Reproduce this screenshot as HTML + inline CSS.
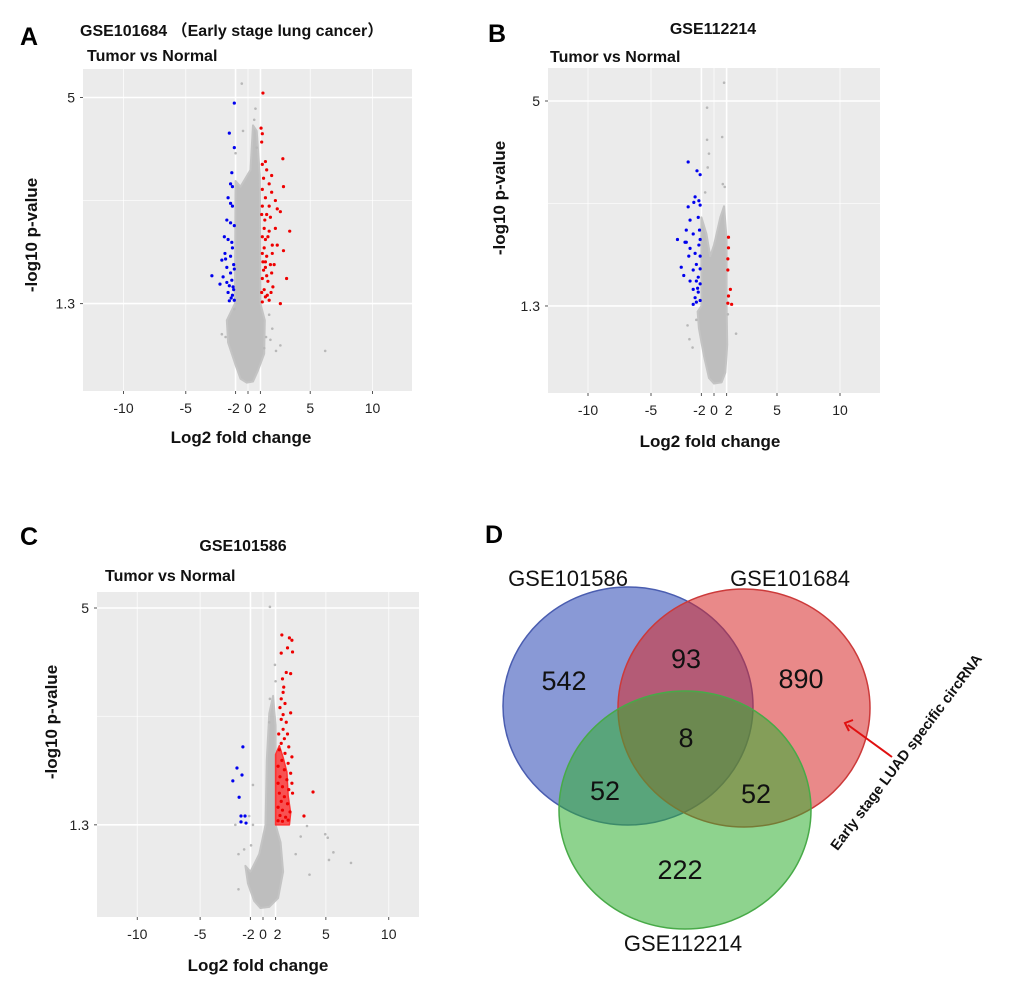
<!DOCTYPE html>
<html><head><meta charset="utf-8">
<style>
html,body{margin:0;padding:0;background:#fff;}
svg{display:block;font-family:"Liberation Sans","Noto Sans CJK SC",sans-serif;}
.lt{font-weight:bold;font-size:25px;fill:#000}
.tt{font-weight:bold;font-size:16px;fill:#111}
.tk{font-size:14px;fill:#222}
.ax{font-weight:bold;font-size:17px;fill:#111}
.vl{font-size:22px;fill:#111}
.vn{font-size:27px;fill:#111}
</style></head>
<body>
<svg id="fig" width="1020" height="985" viewBox="0 0 1020 985">
<g id="panels"></g>

<text class="lt" x="20" y="45">A</text>
<text class="tt" x="80" y="36">GSE101684 （Early stage lung cancer）</text>
<text class="tt" x="87" y="61">Tumor vs Normal</text>
<text class="ax" x="241" y="443" text-anchor="middle">Log2 fold change</text>
<text class="ax" transform="translate(37,235) rotate(-90)" text-anchor="middle">-log10 p-value</text>

<text class="lt" x="488" y="42">B</text>
<text class="tt" x="713" y="34" text-anchor="middle">GSE112214</text>
<text class="tt" x="550" y="62">Tumor vs Normal</text>
<text class="ax" x="710" y="447" text-anchor="middle">Log2 fold change</text>
<text class="ax" transform="translate(505,198) rotate(-90)" text-anchor="middle">-log10 p-value</text>

<text class="lt" x="20" y="545">C</text>
<text class="tt" x="243" y="551" text-anchor="middle">GSE101586</text>
<text class="tt" x="105" y="581">Tumor vs Normal</text>
<text class="ax" x="258" y="971" text-anchor="middle">Log2 fold change</text>
<text class="ax" transform="translate(57,722) rotate(-90)" text-anchor="middle">-log10 p-value</text>

<text class="lt" x="485" y="543">D</text>
<g id="venn">
  <ellipse cx="628" cy="706" rx="125" ry="119" fill="rgb(40,70,180)" fill-opacity="0.55" stroke="#4a5db0" stroke-width="1.5"/>
  <ellipse cx="744" cy="708" rx="126" ry="119" fill="rgb(215,40,40)" fill-opacity="0.55" stroke="#cc3a3a" stroke-width="1.5"/>
  <ellipse cx="685" cy="810" rx="126" ry="119" fill="rgb(50,175,50)" fill-opacity="0.55" stroke="#48aa48" stroke-width="1.5"/>
</g>
<text class="vl" x="568" y="586" text-anchor="middle">GSE101586</text>
<text class="vl" x="790" y="586" text-anchor="middle">GSE101684</text>
<text class="vl" x="683" y="951" text-anchor="middle">GSE112214</text>
<text class="vn" x="564" y="690" text-anchor="middle">542</text>
<text class="vn" x="686" y="668" text-anchor="middle">93</text>
<text class="vn" x="801" y="688" text-anchor="middle">890</text>
<text class="vn" x="686" y="747" text-anchor="middle">8</text>
<text class="vn" x="605" y="800" text-anchor="middle">52</text>
<text class="vn" x="756" y="803" text-anchor="middle">52</text>
<text class="vn" x="680" y="879" text-anchor="middle">222</text>
<g>
  <line x1="892" y1="757" x2="848" y2="725" stroke="#e01010" stroke-width="2"/>
  <polyline points="853,720 845,723 849,731" fill="none" stroke="#e01010" stroke-width="2"/>
</g>
<text transform="translate(910,755) rotate(-53)" text-anchor="middle" style="font-weight:bold;font-size:14.5px;fill:#111">Early stage LUAD specific circRNA</text>
</svg>

<script>
const xTickValues = [-10, -5, -1, 0, 1, 5, 10];
const xTickLabels = ["-10", "-5", "-2", "0", "2", "5", "10"];
const yTickValues = [5, 1.3];
const yTickLabels = ["5", "1.3"];

const aBlue = [[-1.1,4.9],[-1.5,4.36],[-1.1,4.1],[-1.3,3.65],[-1.4,3.45],[-1.25,3.4],[-1.6,3.2],[-1.4,3.1],[-1.25,3.05],[-1.7,2.8],[-1.4,2.75],[-1.9,2.5],[-1.6,2.45],[-1.3,2.4],[-2.1,2.08],[-1.8,2.1],[-1.4,2.15],[-2.9,1.8],[-2.25,1.65],[-2.0,1.78],[-1.7,1.68],[-1.3,1.72],[-1.6,1.5],[-1.25,1.45],[-1.1,1.36],[-1.5,1.35],[-1.7,1.95],[-1.1,1.92],[-1.15,1.55],[-1.4,1.85],[-1.85,2.2],[-1.1,2.7],[-1.25,2.3],[-1.2,1.6],[-1.35,1.4],[-1.15,2.0],[-1.5,1.62]];
const aRed = [[1.2,5.08],[1.05,4.45],[1.15,4.35],[1.1,4.2],[2.8,3.9],[1.15,3.8],[1.4,3.85],[1.5,3.7],[1.25,3.55],[1.9,3.6],[2.85,3.4],[1.15,3.35],[1.7,3.45],[1.4,3.2],[1.9,3.3],[2.2,3.15],[2.6,2.95],[1.15,3.05],[1.5,2.9],[1.8,2.85],[2.35,3.0],[3.35,2.6],[1.3,2.65],[1.7,2.6],[2.2,2.65],[1.4,2.45],[1.95,2.35],[2.35,2.35],[2.85,2.25],[1.15,2.2],[1.5,2.15],[1.8,2.0],[1.4,1.95],[2.1,2.0],[3.1,1.75],[1.15,1.75],[1.6,1.7],[1.3,1.55],[1.85,1.5],[1.4,1.42],[1.15,1.33],[1.7,1.36],[2.6,1.3],[1.4,2.05],[1.3,2.3],[1.7,3.05],[1.15,2.5],[1.5,1.8],[1.95,2.2],[1.1,2.9],[1.25,1.9],[1.6,2.5],[1.1,1.5],[2.0,1.6],[1.35,2.8],[1.2,2.05],[1.55,1.45],[1.9,1.85]];
const aGrey = [[-0.5,5.25],[0.6,4.8],[-0.4,4.4],[-1.0,4.0],[6.2,0.45],[2.6,0.55],[2.25,0.45],[1.7,1.1],[1.95,0.85],[-2.1,0.75],[-1.8,0.7],[1.3,0.5],[1.45,0.7],[-1.1,1.2],[1.8,0.65],[0.5,4.6],[0.7,4.1]];
const aCloud = [[-1.0,3.5],[-0.6,3.4],[0.2,3.7],[0.4,4.5],[0.7,4.4],[0.95,3.6],[1.0,1.3],[1.35,1.0],[1.3,0.4],[0.8,0.1],[0.4,-0.1],[-0.1,-0.12],[-0.6,-0.05],[-1.0,0.2],[-1.6,0.6],[-1.7,1.0],[-1.05,1.3]];

const bBlue = [[-2.05,3.9],[-1.35,3.74],[-1.1,3.67],[-1.5,3.27],[-1.2,3.2],[-1.6,3.17],[-2.05,3.09],[-1.1,3.12],[-1.9,2.85],[-1.25,2.9],[-2.2,2.67],[-1.65,2.6],[-1.15,2.67],[-2.9,2.5],[-2.3,2.45],[-1.9,2.34],[-1.1,2.5],[-1.5,2.25],[-1.1,2.2],[-2.0,2.2],[-2.6,2.0],[-1.4,2.05],[-1.65,1.95],[-2.4,1.85],[-1.1,1.97],[-1.9,1.75],[-1.4,1.75],[-1.1,1.7],[-1.65,1.6],[-1.25,1.55],[-1.5,1.45],[-1.1,1.4],[-1.65,1.33],[-1.4,1.37],[-1.25,1.82],[-2.2,2.45],[-1.2,2.4],[-1.3,1.62]];
const bRed = [[1.15,2.54],[1.15,2.35],[1.1,2.15],[1.1,1.95],[1.3,1.6],[1.15,1.48],[1.4,1.33],[1.1,1.35]];
const bGrey = [[0.8,5.33],[-0.55,4.88],[-0.55,4.3],[0.65,4.35],[-0.4,4.05],[-0.5,3.8],[0.7,3.5],[0.85,3.45],[-0.7,3.35],[-2.1,0.95],[-1.95,0.7],[-1.7,0.55],[1.75,0.8],[-1.4,1.05],[1.1,1.15]];
const bCloud = [[-1.0,2.9],[-0.6,2.6],[-0.3,2.2],[0.0,2.4],[0.5,2.9],[0.8,3.1],[1.0,2.5],[1.0,1.3],[1.05,0.6],[0.9,0.1],[0.6,-0.08],[0.0,-0.1],[-0.4,0.0],[-0.8,0.4],[-1.2,0.9],[-1.3,1.2],[-1.0,1.3]];

const cBlue = [[-1.6,2.63],[-2.07,2.27],[-1.67,2.15],[-2.4,2.05],[-1.9,1.77],[-1.75,1.45],[-1.43,1.45],[-1.75,1.35],[-1.35,1.33]];
const cRed = [[1.5,4.54],[2.1,4.49],[2.3,4.45],[1.45,4.23],[1.95,4.32],[2.35,4.25],[1.85,3.9],[2.2,3.88],[1.55,3.79],[1.65,3.65],[1.6,3.56],[1.45,3.45],[1.75,3.37],[1.35,3.3],[2.2,3.21],[1.6,3.18],[1.45,3.1],[1.85,3.05],[1.6,2.93],[1.25,2.85],[1.95,2.85],[1.7,2.77],[1.45,2.69],[2.05,2.63],[1.3,2.58],[1.75,2.52],[2.3,2.46],[1.5,2.4],[2.0,2.35],[1.2,2.3],[1.7,2.24],[2.2,2.18],[1.35,2.12],[1.9,2.07],[2.3,2.01],[1.2,2.01],[1.55,1.95],[2.05,1.9],[2.35,1.84],[1.3,1.84],[1.7,1.78],[1.45,1.7],[1.95,1.66],[1.2,1.6],[1.55,1.55],[2.15,1.52],[1.35,1.46],[1.8,1.43],[1.2,1.37],[1.55,1.36],[2.0,1.38],[3.98,1.86],[3.26,1.45]];
const cRedCore = [[1.0,1.3],[1.0,2.5],[1.3,2.65],[1.6,2.45],[1.9,2.2],[2.0,1.8],[2.2,1.5],[2.1,1.3]];
const cGrey = [[0.55,5.02],[0.95,4.03],[1.0,3.75],[0.55,3.45],[0.5,3.05],[-0.8,1.98],[-2.2,1.3],[-0.8,1.3],[-1.1,1.45],[-1.95,0.8],[-1.5,0.88],[-0.95,0.95],[-1.95,0.2],[3.5,1.28],[4.95,1.14],[5.15,1.08],[5.6,0.83],[5.25,0.7],[7.0,0.65],[3.7,0.45],[2.6,0.8],[3.0,1.1]];
const cCloud = [[0.2,1.3],[0.3,2.4],[0.5,3.2],[0.8,3.5],[1.0,3.0],[1.0,1.3],[1.4,1.0],[1.6,0.5],[1.2,0.05],[0.5,-0.1],[-0.2,-0.12],[-0.7,0.0],[-1.2,0.3],[-1.4,0.6],[-1.0,0.5],[-0.3,0.8],[0.0,1.1]];

const NS = "http://www.w3.org/2000/svg";
const root = document.getElementById("panels");
function mk(tag, attrs, parent) {
  const e = document.createElementNS(NS, tag);
  for (const k in attrs) e.setAttribute(k, attrs[k]);
  parent.appendChild(e);
  return e;
}

function drawVolcano(id, geo, cloud, grey, blue, red, redCore) {
  const g = mk("g", {}, root);
  
  
  const sx = v => geo.x0 + geo.kx * v;
  const sy = v => geo.y0 - geo.ky * v;
  const bg = mk("rect", {x: geo.left, y: geo.top, width: geo.right - geo.left, height: geo.bottom - geo.top, fill: "#ebebeb"}, g);
  
  
  xTickValues.forEach((v, i) => {
    const strong = Math.abs(v) === 1;
    const ln = mk("line", {x1: sx(v), x2: sx(v), y1: geo.top, y2: geo.bottom, stroke: "#fff", "stroke-width": strong ? 1.6 : 1, "stroke-opacity": strong ? 1 : 0.7}, g);
    
    
    const tk = mk("line", {x1: sx(v), x2: sx(v), y1: geo.bottom, y2: geo.bottom + 3, stroke: "#555", "stroke-width": 1}, g);
    
    
  });
  yTickValues.forEach((v, i) => {
    const ln = mk("line", {x1: geo.left, x2: geo.right, y1: sy(v), y2: sy(v), stroke: "#fff", "stroke-width": 1.6}, g);
    
    
    const tk = mk("line", {x1: geo.left - 3, x2: geo.left, y1: sy(v), y2: sy(v), stroke: "#555", "stroke-width": 1}, g);
    
    
    const t = mk("text", {x: geo.left - 8, y: sy(v) + 5, "text-anchor": "end", class: "tk"}, g);
    t.textContent = yTickLabels[i];
    
    
  });
  const mid = mk("line", {x1: geo.left, x2: geo.right, y1: sy(3.15), y2: sy(3.15), stroke: "#fff", "stroke-width": 1, "stroke-opacity": 0.6}, g);
  
  
  xTickValues.forEach((v, i) => {
    let dx = 0;
    if (v === -1) dx = -2;
    if (v === 1) dx = 2;
    const t = mk("text", {x: sx(v) + dx, y: geo.bottom + 22, "text-anchor": "middle", class: "tk"}, g);
    t.textContent = xTickLabels[i];
    
    
  });
  const cp = mk("polygon", {points: cloud.map(p => sx(p[0]) + "," + sy(p[1])).join(" "), fill: "#bebebe", stroke: "#c4c4c4", "stroke-width": 2, "stroke-linejoin": "round"}, g);
  
  
  grey.forEach(p => {
    const c = mk("circle", {cx: sx(p[0]), cy: sy(p[1]), r: 1.3, fill: "#b8b8b8"}, g);
    
    
  });
  if (redCore) {
    const rp = mk("polygon", {points: redCore.map(p => sx(p[0]) + "," + sy(p[1])).join(" "), fill: "#f00", "fill-opacity": 0.65, stroke: "#f33", "stroke-width": 1.5, "stroke-linejoin": "round"}, g);
    
    
  }
  blue.forEach(p => {
    const c = mk("circle", {cx: sx(p[0]), cy: sy(p[1]), r: 1.6, fill: "#0000ee"}, g);
    
    
  });
  red.forEach(p => {
    const c = mk("circle", {cx: sx(p[0]), cy: sy(p[1]), r: 1.6, fill: "#ee0000"}, g);
    
    
  });
}

drawVolcano("panel-a", {left: 83, right: 412, top: 69, bottom: 391, x0: 248, kx: 12.45, y0: 376, ky: 55.7}, aCloud, aGrey, aBlue, aRed, null);
drawVolcano("panel-b", {left: 548, right: 880, top: 68, bottom: 393, x0: 714, kx: 12.6, y0: 378, ky: 55.4}, bCloud, bGrey, bBlue, bRed, null);
drawVolcano("panel-c", {left: 97, right: 419, top: 592, bottom: 917, x0: 263, kx: 12.57, y0: 901, ky: 58.6}, cCloud, cGrey, cBlue, cRed, cRedCore);
</script>
</body></html>
